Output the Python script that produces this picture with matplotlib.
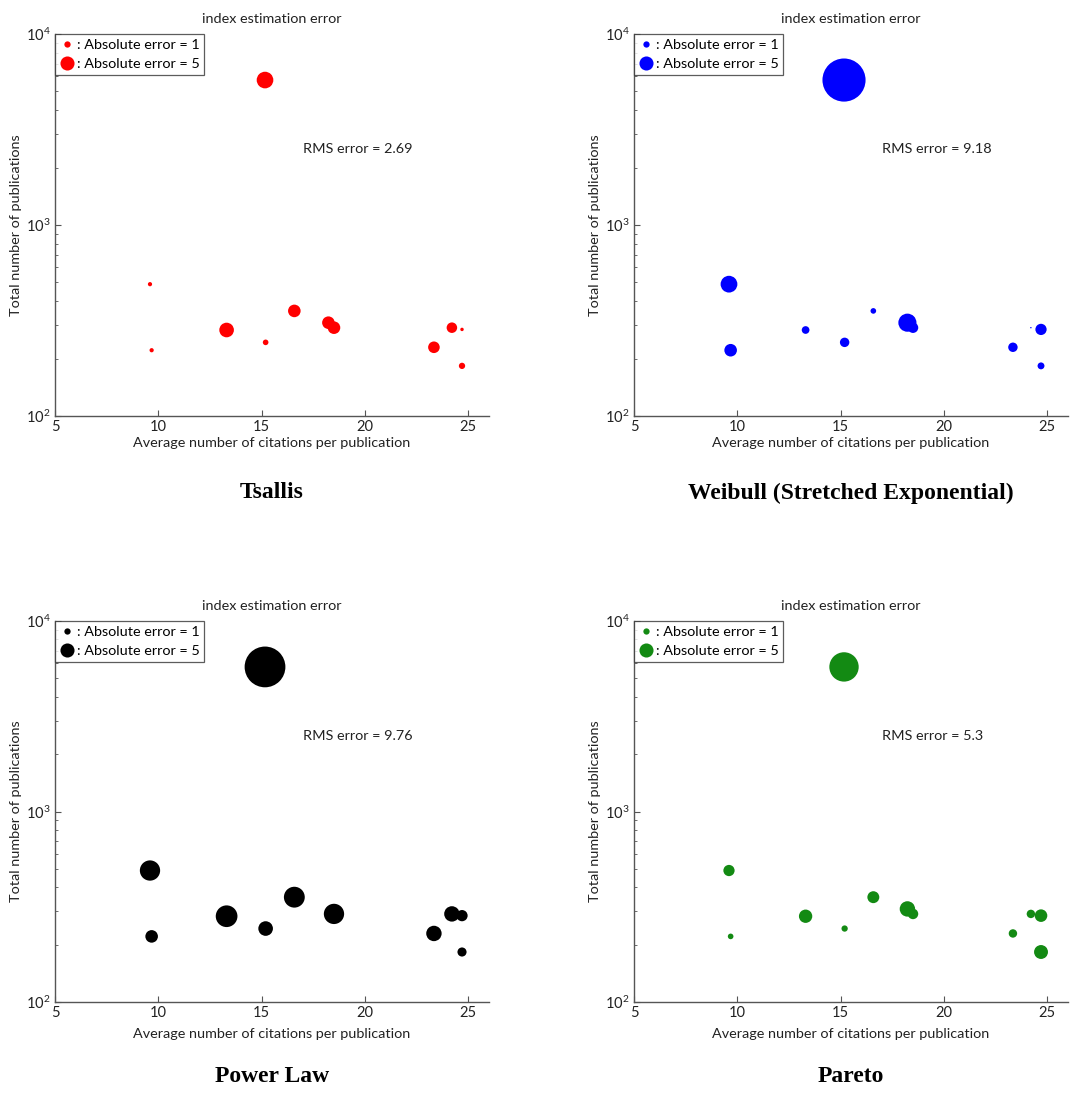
import matplotlib
matplotlib.use('Agg')
import matplotlib.pyplot as plt
from matplotlib.lines import Line2D
import numpy as np

# ---- data ----
x_cit = [15.17, 9.60, 9.68, 13.31, 15.20, 16.59, 18.24, 18.51, 23.35, 24.22, 24.71, 24.71]
y_pub = [5740, 490, 221, 282, 243, 355, 308, 290, 229, 290, 284, 183]

err_tsallis = [7.0, 0.45, 0.45, 5.4, 0.8, 4.0, 4.0, 4.0, 3.4, 2.8, 0.3, 1.0]
err_weibull = [47.0, 7.1, 4.0, 1.5, 2.25, 0.8, 8.3, 2.8, 2.25, 0.05, 3.2, 1.2]
err_power = [42.0, 10.4, 4.0, 11.9, 5.4, 11.0, 0.1, 10.4, 6.0, 6.0, 3.2, 2.1]
err_pareto = [21.8, 3.2, 0.8, 4.5, 1.0, 3.6, 6.0, 2.8, 1.8, 1.8, 4.0, 4.9]

model_names = ["Tsallis", "Weibull (Stretched Exponential)", "Power Law", "Pareto"]
rms_values = ["2.69", "9.18", "9.76", "5.3"]
colors = ["#ff0000", "#0000ff", "#000000", "#138a13"]
legend_errors = [1, 5]

W, H = 1078, 1093
plt.rcParams['font.family'] = ['Lato', 'DejaVu Sans']
plt.rcParams['mathtext.fontset'] = 'custom'
plt.rcParams['mathtext.rm'] = 'Lato'
plt.rcParams['mathtext.default'] = 'regular'

fig = plt.figure(figsize=(W / 100, H / 100), dpi=100)

K = 20.5  # marker area (pt^2) per unit of absolute error

def rect(l, t, r, b):
    return [l / W, 1 - b / H, (r - l) / W, (b - t) / H]

px_per_unit = 20.65
lefts = [55, 634]
tops = [(34, 416), (621, 1002)]
label_y = [493, 1076]

spine_c = '#555555'
txt_c = '#222222'
fs = 10.4

for i in range(4):
    row, col = divmod(i, 2)
    l = lefts[col]
    t, b = tops[row]
    r = l + 21 * px_per_unit
    ax = fig.add_axes(rect(l, t, r, b))
    errs = err_tsallis if i == 0 else err_weibull if i == 1 else err_power if i == 2 else err_pareto
    ax.scatter(x_cit, y_pub, s=[K * e for e in errs], c=colors[i], edgecolors='none', zorder=3)
    ax.set_yscale('log')
    ax.set_xlim(5, 26)
    ax.set_ylim(100, 10000)
    ax.set_xticks([5, 10, 15, 20, 25])
    for s in ['top', 'right']:
        ax.spines[s].set_visible(False)
    for s in ['left', 'bottom']:
        ax.spines[s].set_color(spine_c)
        ax.spines[s].set_linewidth(1.0)
    ax.tick_params(which='major', direction='in', length=4, width=0.8, color=spine_c,
                   labelsize=10.5, pad=3, labelcolor=txt_c)
    ax.tick_params(which='minor', direction='in', length=2.5, width=0.6, color=spine_c)
    ax.set_xlabel('Average number of citations per publication', fontsize=fs,
                  labelpad=2 if row == 0 else 6, color=txt_c)
    ax.set_ylabel('Total number of publications', fontsize=fs, labelpad=3, color=txt_c)
    ax.set_title('index estimation error', fontsize=fs, pad=8, color=txt_c)
    ax.text(17.0, 10 ** 3.398, 'RMS error = ' + rms_values[i], fontsize=fs,
            va='center', ha='left', color=txt_c)
    handles = [Line2D([], [], marker='o', ls='', color=colors[i], markeredgewidth=0,
                      markersize=np.sqrt(K * e)) for e in legend_errors]
    leg = ax.legend(handles, [': Absolute error = %d' % e for e in legend_errors],
                    loc='upper left', bbox_to_anchor=(0, 1.0), borderaxespad=0,
                    frameon=True, fancybox=False, fontsize=fs, borderpad=0.35,
                    handlelength=1.0, handletextpad=0.15, labelspacing=0.45)
    leg.get_frame().set_edgecolor('#333333')
    leg.get_frame().set_linewidth(0.9)
    fig.text((l + r) / 2 / W, 1 - label_y[row] / H, model_names[i],
             fontfamily='Liberation Serif', fontweight='bold', fontsize=17,
             ha='center', va='center')

fig.savefig('out.png', dpi=100, facecolor='white')
